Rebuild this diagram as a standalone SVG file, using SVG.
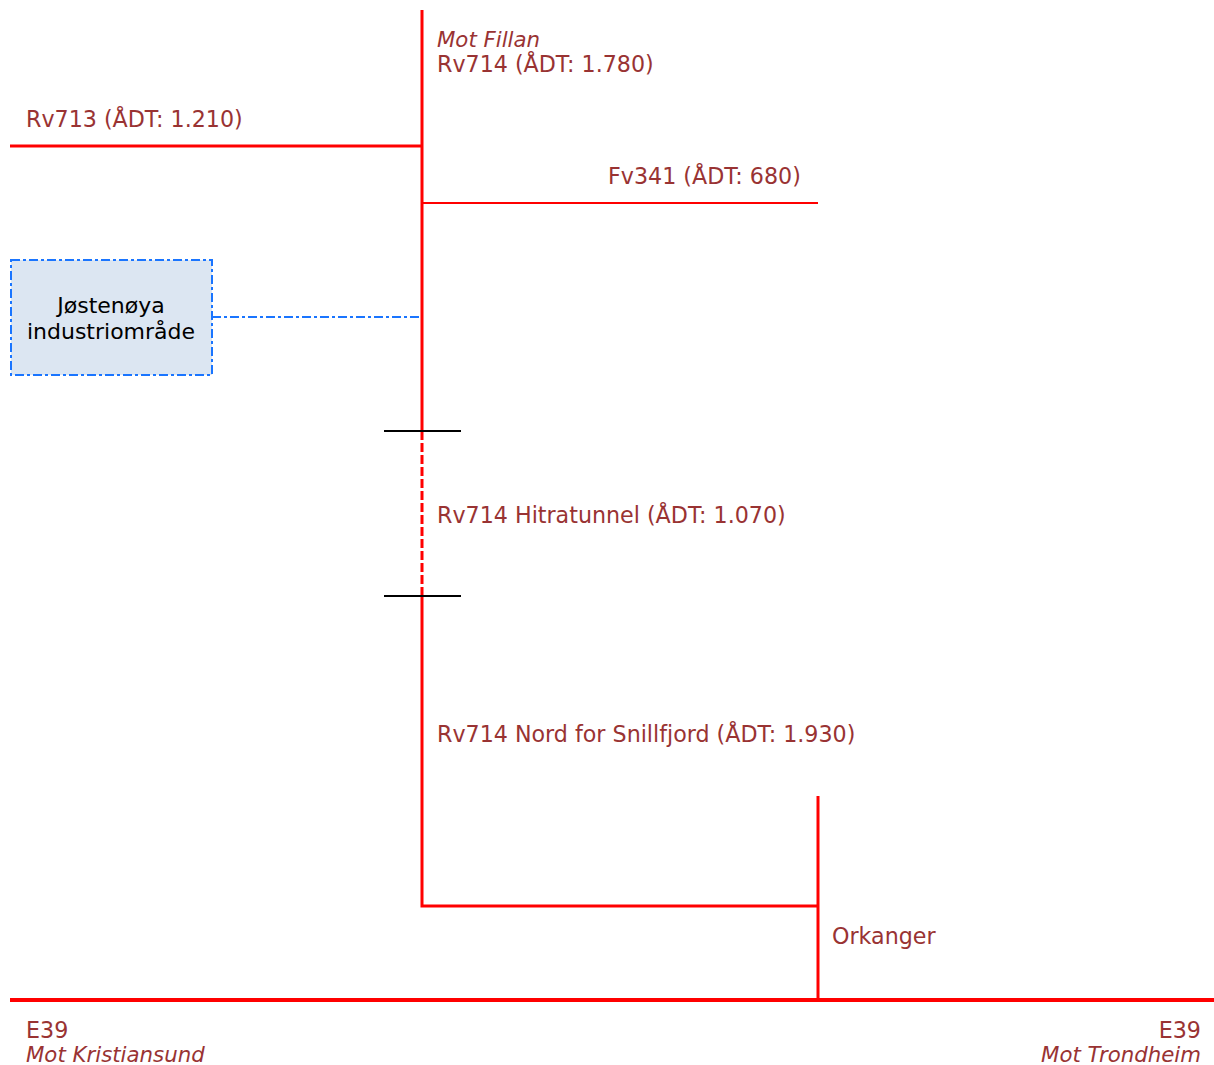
<svg xmlns="http://www.w3.org/2000/svg" width="1214" height="1065" viewBox="0 0 1214 1065">
<style>
.t{font-family:"DejaVu Sans",Verdana,sans-serif;font-size:22.2px;fill:#993333}
.i{font-style:italic;font-size:21.3px}
.r{stroke:#ff0000;fill:none}
.k{stroke:#000;stroke-width:2}
.bt{font-family:"DejaVu Sans",Verdana,sans-serif;font-size:22px;fill:#000;text-anchor:middle}
</style>
<rect width="1214" height="1065" fill="#fff"/>
<g id="connectors">
<line class="r" x1="422" y1="10" x2="422" y2="431" stroke-width="3"/>
<line class="r" x1="422" y1="431" x2="422" y2="596" stroke-width="3" stroke-dasharray="9,3"/>
<polyline class="r" points="422,596 422,906 818,906" stroke-width="3"/>
<line class="r" x1="818" y1="796" x2="818" y2="1000" stroke-width="3"/>
<line class="r" x1="10" y1="146" x2="422" y2="146" stroke-width="3"/>
<line class="r" x1="422" y1="203" x2="818" y2="203" stroke-width="2"/>
<line class="r" x1="10" y1="1000" x2="1214" y2="1000" stroke-width="4"/>
<line x1="212" y1="317" x2="420" y2="317" stroke="#1a75ff" stroke-width="2" stroke-dasharray="9,3,3,3"/>
<line class="k" x1="384" y1="431" x2="461" y2="431"/>
<line class="k" x1="384" y1="596" x2="461" y2="596"/>
</g>
<g id="jostenoya">
<rect x="11" y="260" width="201" height="115" fill="#dce6f2" stroke="#1a75ff" stroke-width="2" stroke-dasharray="9,3,3,3"/>
<text class="bt" x="111" y="313">Jøstenøya</text>
<text class="bt" x="111" y="339">industriområde</text>
</g>
<g id="labels">
<text class="t i" x="437" y="47">Mot Fillan</text>
<text class="t" x="437" y="72">Rv714 (ÅDT: 1.780)</text>
<text class="t" x="26" y="127">Rv713 (ÅDT: 1.210)</text>
<text class="t" x="608" y="184">Fv341 (ÅDT: 680)</text>
<text class="t" x="437" y="523">Rv714 Hitratunnel (ÅDT: 1.070)</text>
<text class="t" x="437" y="742">Rv714 Nord for Snillfjord (ÅDT: 1.930)</text>
<text class="t" x="832" y="944">Orkanger</text>
<text class="t" x="26" y="1038">E39</text>
<text class="t i" x="26" y="1062">Mot Kristiansund</text>
<text class="t" x="1201" y="1038" text-anchor="end">E39</text>
<text class="t i" x="1201" y="1062" text-anchor="end">Mot Trondheim</text>
</g>
</svg>
